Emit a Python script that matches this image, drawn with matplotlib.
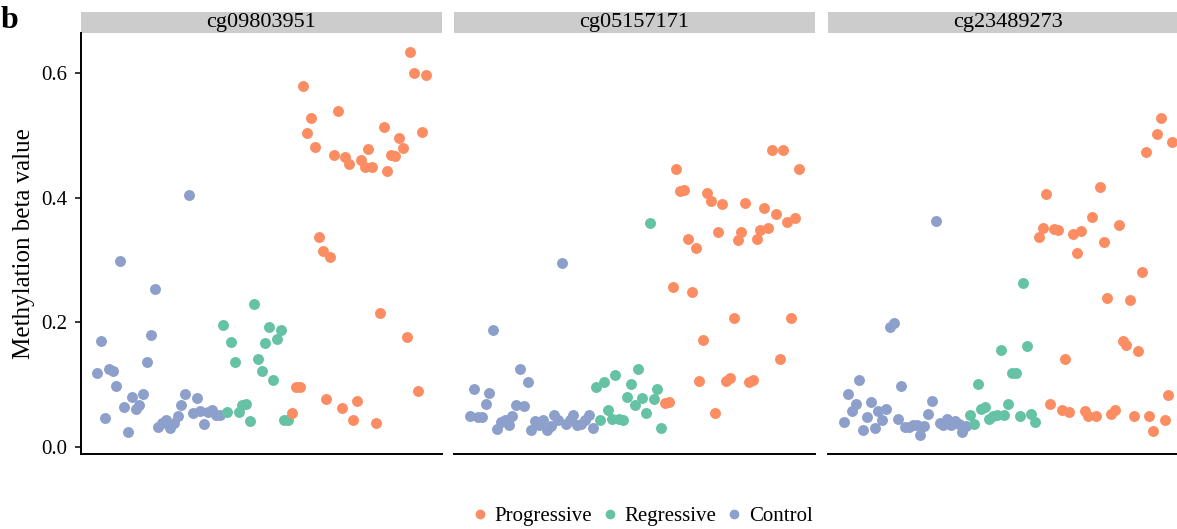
import numpy as np
import matplotlib
matplotlib.use("Agg")
import matplotlib.pyplot as plt
from matplotlib.patches import Rectangle
from matplotlib.lines import Line2D

plt.rcParams['font.family'] = ['Liberation Serif', 'DejaVu Serif']

probes = ['cg09803951', 'cg05157171', 'cg23489273']
groups = ['Progressive', 'Regressive', 'Control']
colors = {'Progressive': '#FC8D62', 'Regressive': '#66C2A5', 'Control': '#8DA0CB'}

# samples are ordered: control, then regressive, then progressive
control_1 = [0.118, 0.170, 0.046, 0.125, 0.122, 0.098, 0.298, 0.064, 0.024, 0.079, 0.060,
             0.066, 0.085, 0.136, 0.180, 0.253, 0.031, 0.038, 0.043, 0.029, 0.038, 0.049,
             0.066, 0.085, 0.405, 0.054, 0.078, 0.057, 0.036, 0.056, 0.058, 0.050, 0.050]
regressive_1 = [0.195, 0.055, 0.168, 0.136, 0.055, 0.067, 0.068, 0.041, 0.229, 0.141,
                0.121, 0.166, 0.192, 0.107, 0.173, 0.188, 0.043, 0.043]
progressive_1 = [0.054, 0.096, 0.095, 0.580, 0.505, 0.529, 0.481, 0.337, 0.314, 0.077,
                 0.305, 0.469, 0.539, 0.062, 0.466, 0.454, 0.043, 0.074, 0.461, 0.450,
                 0.478, 0.450, 0.038, 0.215, 0.514, 0.443, 0.469, 0.468, 0.496, 0.480,
                 0.176, 0.635, 0.600, 0.090, 0.506, 0.597]

control_2 = [0.049, 0.092, 0.048, 0.048, 0.068, 0.086, 0.188, 0.028, 0.039, 0.042, 0.035,
             0.049, 0.067, 0.125, 0.065, 0.104, 0.026, 0.041, 0.035, 0.042, 0.026, 0.033,
             0.050, 0.042, 0.295, 0.037, 0.043, 0.050, 0.034, 0.036, 0.043, 0.050, 0.029]
regressive_2 = [0.095, 0.043, 0.104, 0.058, 0.045, 0.115, 0.045, 0.043, 0.080, 0.100,
                0.067, 0.125, 0.078, 0.054, 0.360, 0.076, 0.093, 0.029]
progressive_2 = [0.070, 0.072, 0.257, 0.446, 0.411, 0.412, 0.333, 0.248, 0.320, 0.106,
                 0.171, 0.408, 0.395, 0.054, 0.345, 0.390, 0.106, 0.111, 0.206, 0.332,
                 0.345, 0.392, 0.103, 0.107, 0.333, 0.348, 0.384, 0.352, 0.477, 0.374,
                 0.141, 0.477, 0.361, 0.206, 0.367, 0.447]

control_3 = [0.040, 0.085, 0.057, 0.069, 0.107, 0.026, 0.048, 0.071, 0.030, 0.057, 0.043,
             0.060, 0.192, 0.198, 0.045, 0.098, 0.032, 0.032, 0.034, 0.035, 0.018, 0.033,
             0.052, 0.073, 0.362, 0.038, 0.034, 0.044, 0.035, 0.041, 0.037, 0.024, 0.033]
regressive_3 = [0.050, 0.036, 0.101, 0.060, 0.064, 0.044, 0.049, 0.051, 0.156, 0.051,
                0.069, 0.119, 0.119, 0.049, 0.263, 0.162, 0.052, 0.040]
progressive_3 = [0.337, 0.352, 0.406, 0.069, 0.350, 0.348, 0.058, 0.140, 0.055, 0.341,
                 0.311, 0.347, 0.057, 0.049, 0.369, 0.049, 0.418, 0.329, 0.239, 0.052,
                 0.059, 0.356, 0.170, 0.164, 0.236, 0.049, 0.154, 0.280, 0.474, 0.049,
                 0.025, 0.502, 0.528, 0.042, 0.083, 0.490]

panel_data = [
    {'Control': control_1, 'Regressive': regressive_1, 'Progressive': progressive_1},
    {'Control': control_2, 'Regressive': regressive_2, 'Progressive': progressive_2},
    {'Control': control_3, 'Regressive': regressive_3, 'Progressive': progressive_3},
]

W, H = 1177, 529
fig = plt.figure(figsize=(W / 100, H / 100), dpi=100)

panel_left = [81, 454, 827.7]
panel_w = 361
ax_top, ax_bottom = 32.7, 454.3
strip_h = 20.5

for k, probe in enumerate(probes):
    ax = fig.add_axes([panel_left[k] / W, 1 - ax_bottom / H, panel_w / W, (ax_bottom - ax_top) / H])
    d = panel_data[k]
    start = 0
    for g in ['Control', 'Regressive', 'Progressive']:
        y = np.array(d[g])
        x = np.arange(start, start + len(y))
        start += len(y)
        ax.scatter(x, y, s=62, color=colors[g], linewidths=0, zorder=3)
    n = start - 1
    ax.set_xlim(-0.05 * n, n * 1.05)
    ax.set_ylim(-0.0125, 0.6655)
    for s in ['top', 'right']:
        ax.spines[s].set_visible(False)
    ax.spines['bottom'].set_linewidth(1.4)
    ax.set_xticks([])
    if k == 0:
        ax.spines['left'].set_linewidth(1.4)
        ax.set_yticks([0.0, 0.2, 0.4, 0.6])
        ax.set_yticklabels(['0.0', '0.2', '0.4', '0.6'])
        ax.tick_params(axis='y', length=4, width=1.1, labelsize=15, pad=6)
        ax.set_ylabel('Methylation beta value', fontsize=18, labelpad=4)
    else:
        ax.spines['left'].set_visible(False)
        ax.set_yticks([])
    hfrac = strip_h / (ax_bottom - ax_top)
    ax.add_patch(Rectangle((0, 1), 1, hfrac, transform=ax.transAxes,
                           facecolor='#CCCCCC', edgecolor='none', clip_on=False))
    ax.text(0.5, 1 + hfrac / 2, probe, transform=ax.transAxes, ha='center', va='center',
            fontsize=16)

fig.text(1 / W, 1 - 21 / H, 'b', fontsize=23, fontweight='bold', ha='left', va='center')

handles = [Line2D([], [], marker='o', linestyle='', markersize=7, markeredgewidth=0,
                  color=colors[g], label=g) for g in groups]
fig.legend(handles=handles, loc='center', bbox_to_anchor=(641 / W, 1 - 516 / H), ncol=3,
           frameon=False, fontsize=15, handletextpad=0.2, columnspacing=0.35, handlelength=1.0)

fig.savefig('out.png', dpi=100)
